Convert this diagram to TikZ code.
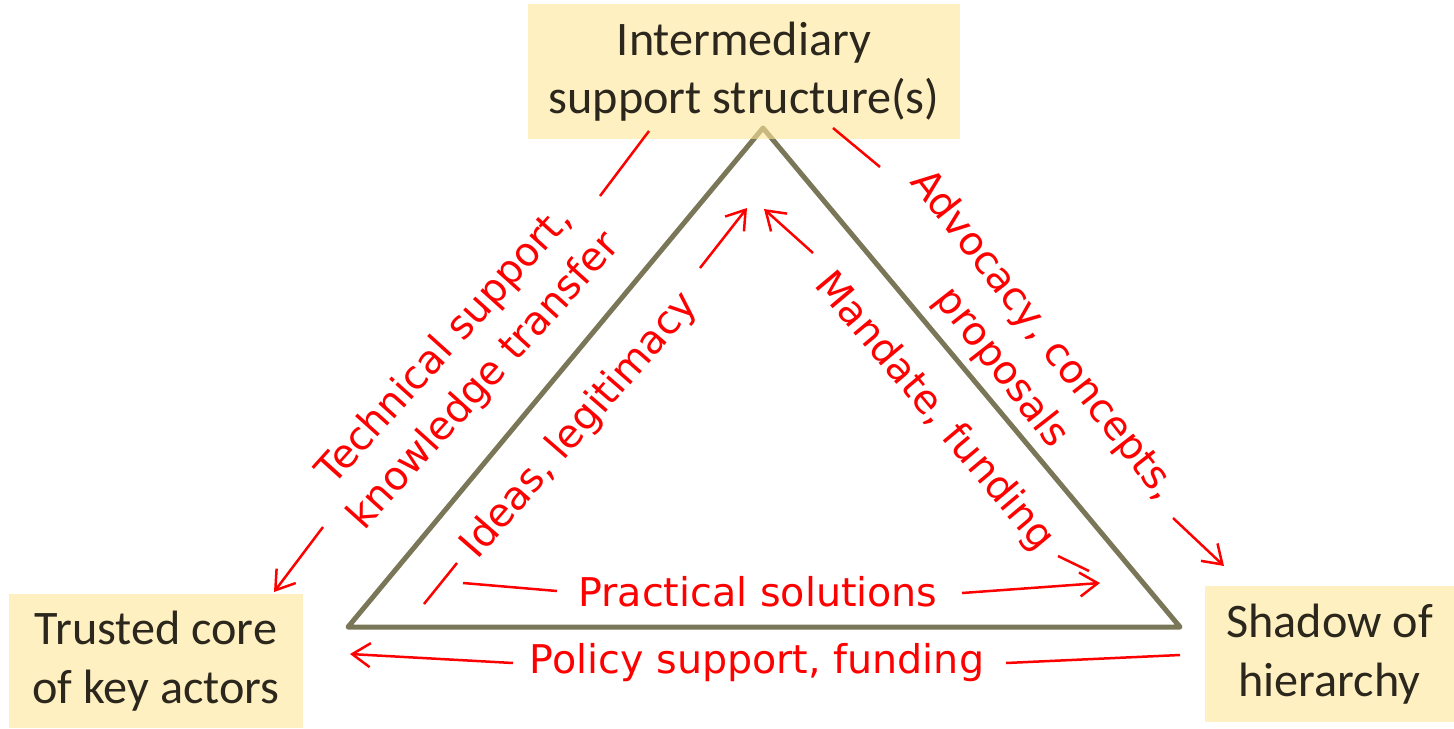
\documentclass[tikz,border=0pt]{standalone}
\usepackage{fontspec}
\setmainfont{Carlito}
\newfontfamily\redfont{DejaVu Sans}
\usetikzlibrary{arrows.meta}
\definecolor{boxfill}{HTML}{FFE699}
\definecolor{tricol}{HTML}{7A7658}
\definecolor{boxtext}{HTML}{2B271D}
\definecolor{lred}{HTML}{FF0000}
\begin{document}
\begin{tikzpicture}[x=0.5pt,y=-0.5pt,
  box/.style={fill=boxfill, fill opacity=0.6, text opacity=1, text=boxtext,
    inner sep=0pt, align=center, font=\fontsize{24.1}{29.2}\selectfont},
  lbl/.style={text=lred, font=\redfont\fontsize{19.8}{26.5}\selectfont,
    align=center, inner sep=0pt},
  conn/.style={draw=lred, line width=1.25pt},
  arr/.style={conn, -{Straight Barb[length=9pt,width=12pt,line width=1.25pt]}},
  triline/.style={draw=tricol, line width=2.5pt, line join=round}
]
\useasboundingbox (0,0) rectangle (1454,728);
% triangle
\coordinate (T) at (763,128);
\coordinate (L) at (348,627);
\coordinate (R) at (1180,627);
\draw[triline] (T) -- (L) -- (R) -- cycle;
% boxes
\node[box, minimum width=216pt, minimum height=67.5pt] (top) at (744,71.5)
  {Intermediary\\support structure(s)};
\node[box, minimum width=147pt, minimum height=67pt] (left) at (156,661)
  {Trusted core\\of key actors};
\node[box, minimum width=124.5pt, minimum height=68pt] (right) at (1329.5,654)
  {Shadow of\\hierarchy};
% labels
\node[lbl, rotate=48] (tech) at (465,364) {Technical support,\\knowledge transfer};
\node[lbl, rotate=-52] (adv) at (1022,352) {Advocacy, concepts,\\proposals};
\node[lbl, rotate=49] (ideas) at (580,426) {Ideas, legitimacy};
\node[lbl, rotate=-50] (mand) at (934,412) {Mandate, funding};
\node[lbl] (prac) at (758,592) {Practical solutions};
\node[lbl] (pol) at (757,663) {Policy support, funding};
% connector end points
\coordinate (ta) at (649,131); \coordinate (tb) at (600,196);
\coordinate (tc) at (323,527); \coordinate (td) at (274,592);
\coordinate (aa) at (833,128); \coordinate (ab) at (880,167);
\coordinate (ac) at (1173,518); \coordinate (ad) at (1224,566);
\coordinate (ia) at (424,604); \coordinate (ib) at (457,563);
\coordinate (ic) at (700,268); \coordinate (id) at (747,208);
\coordinate (ma) at (813,253); \coordinate (mb) at (764,209);
\coordinate (mc) at (1058,556); \coordinate (md) at (1089,571);
\coordinate (pa) at (463,583); \coordinate (pb) at (557,591);
\coordinate (pc) at (962,593); \coordinate (pd) at (1100,583);
\coordinate (qa) at (513,663); \coordinate (qb) at (350,654);
\coordinate (qc) at (1006,663); \coordinate (qd) at (1180,655);
% connectors
\draw[conn] (ta) -- (tb);
\draw[arr] (tc) -- (td);
\draw[conn] (aa) -- (ab);
\draw[arr] (ac) -- (ad);
\draw[conn] (ia) -- (ib);
\draw[arr] (ic) -- (id);
\draw[arr] (ma) -- (mb);
\draw[conn] (mc) -- (md);
\draw[conn] (pa) -- (pb);
\draw[arr] (pc) -- (pd);
\draw[arr] (qa) -- (qb);
\draw[conn] (qc) -- (qd);
\end{tikzpicture}
\end{document}
